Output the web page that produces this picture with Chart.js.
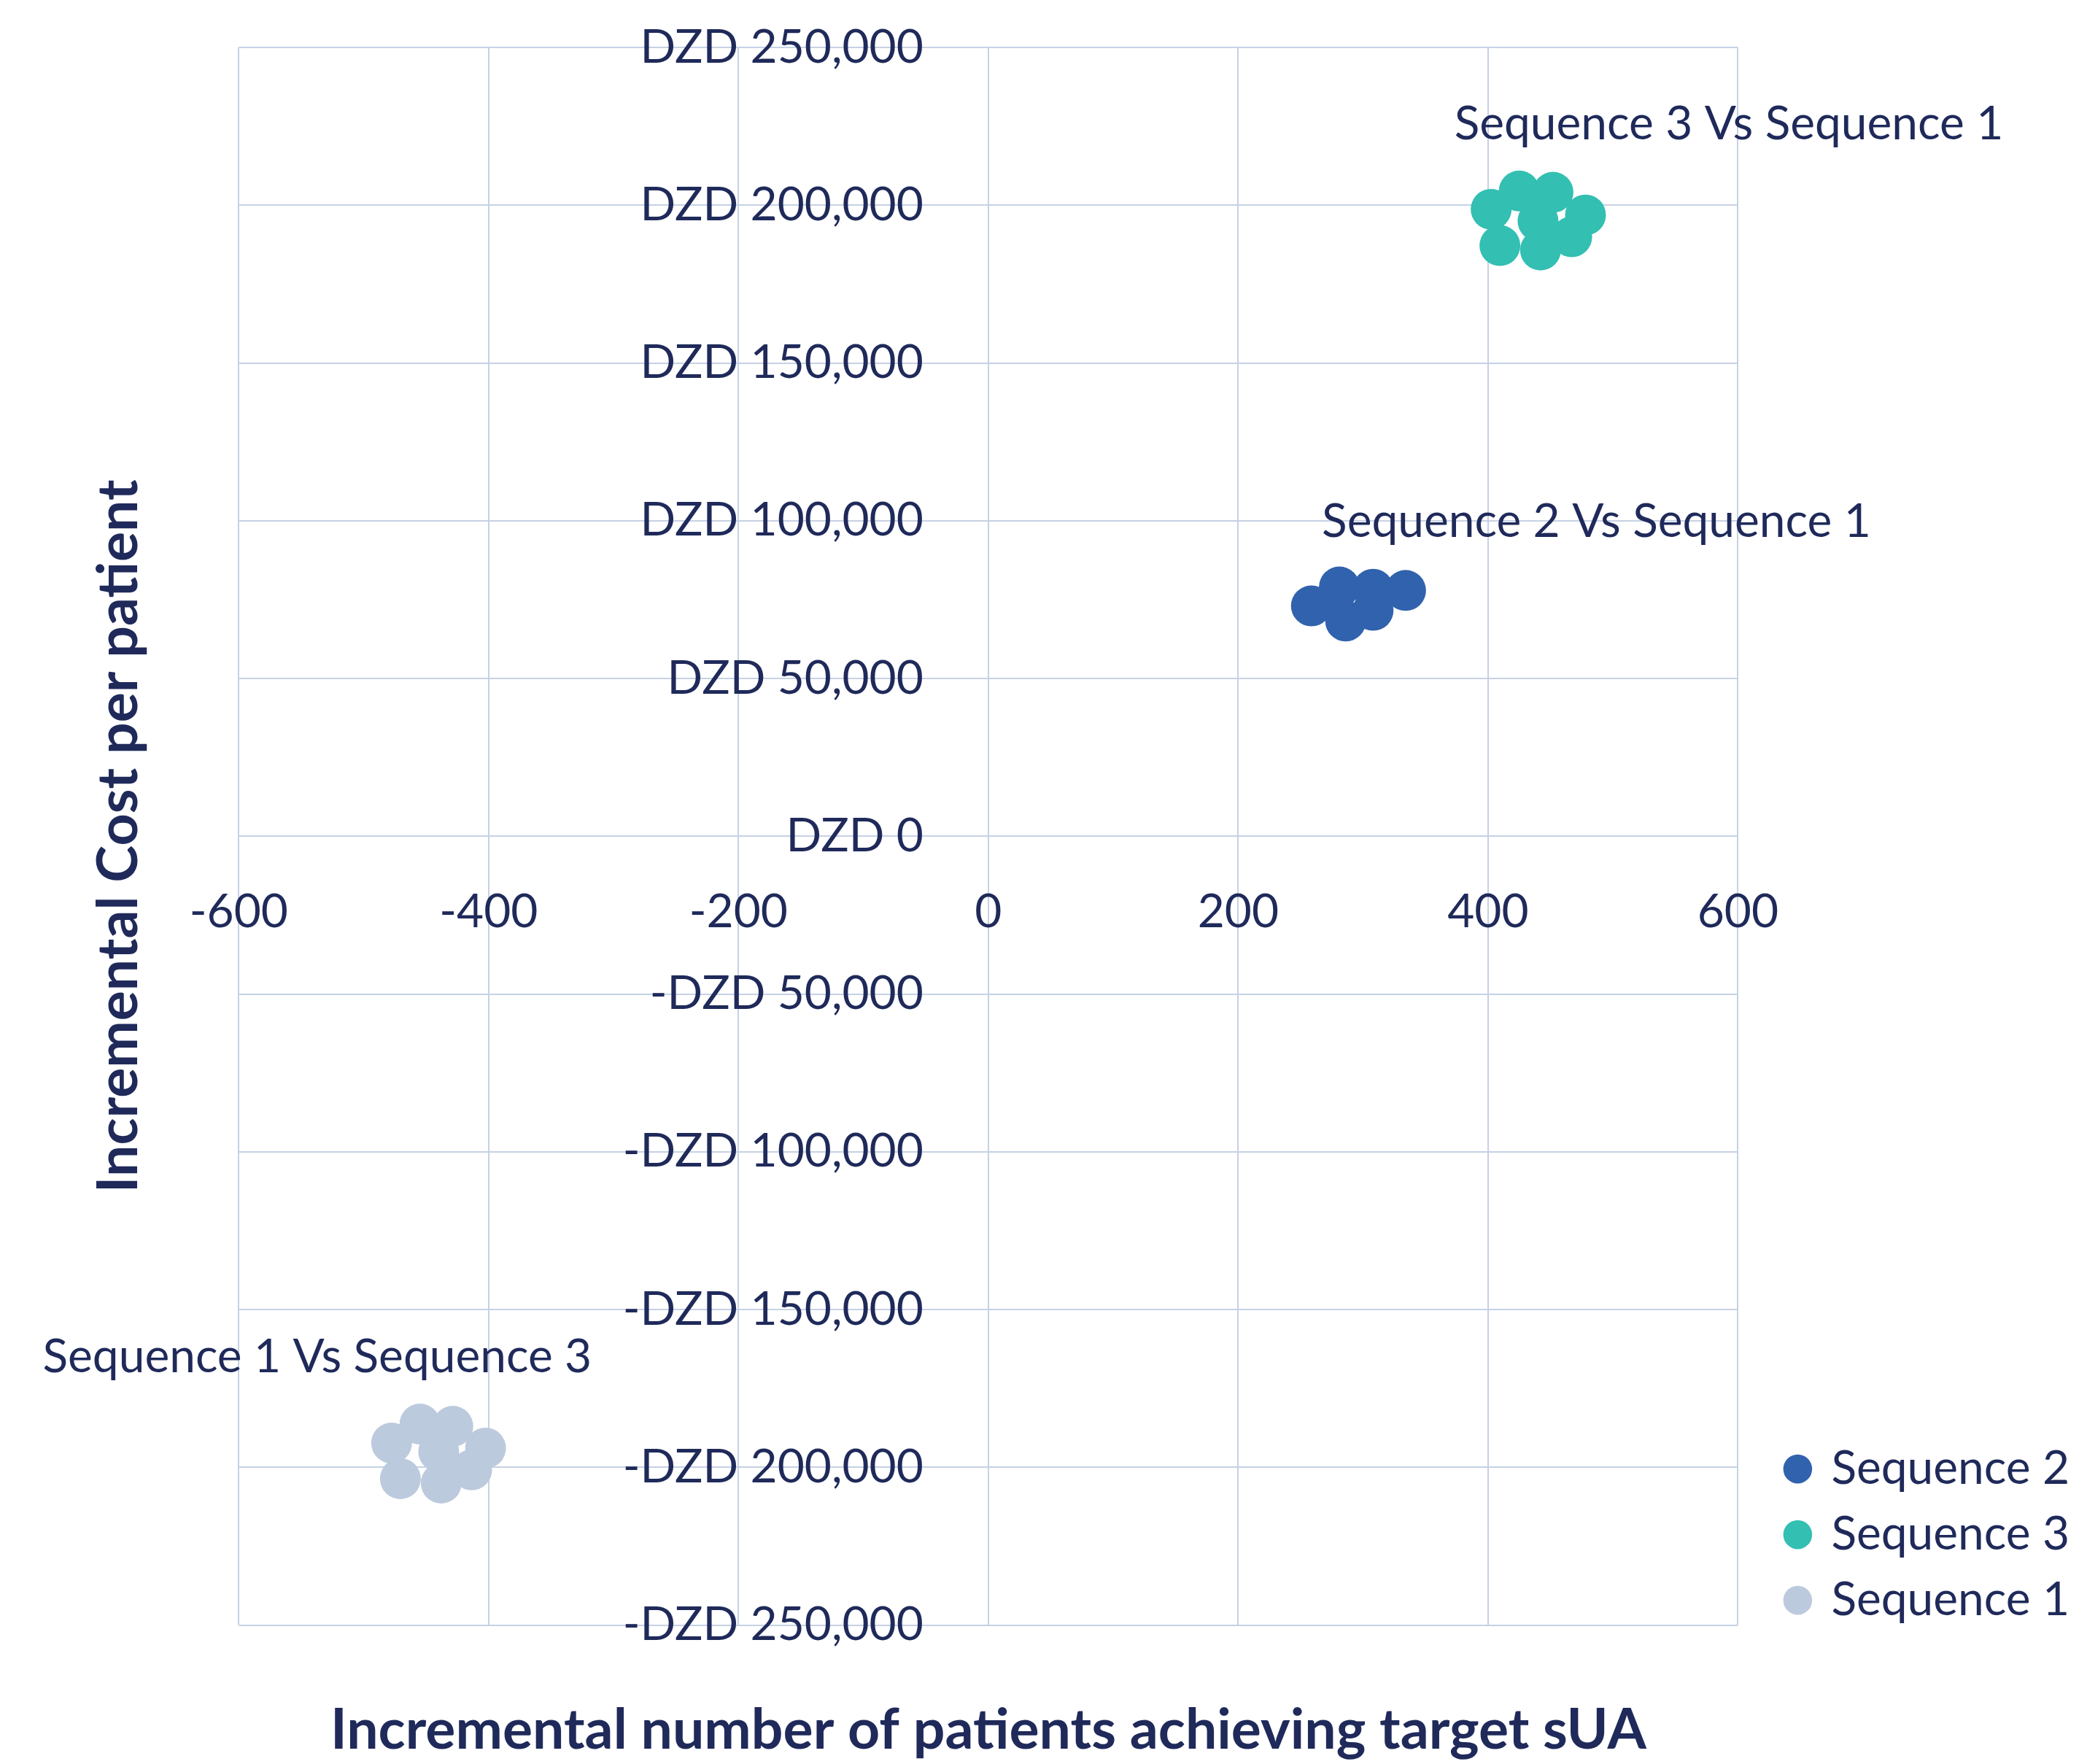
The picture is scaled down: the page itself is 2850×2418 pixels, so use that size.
<!DOCTYPE html>
<html>
<head>
<meta charset="utf-8">
<script src="https://cdn.jsdelivr.net/npm/chart.js@4.4.0/dist/chart.umd.min.js"></script>
<style>
  html, body { margin: 0; padding: 0; background: #fff; }
  #wrap { width: 2850px; height: 2418px; }
</style>
</head>
<body>
<div id="wrap"><canvas id="icer"></canvas></div>
<script>
// values
const seriesNames = ['Sequence 2', 'Sequence 3', 'Sequence 1'];
const seq2X = [258.6, 281, 308, 334, 286, 308];
const seq2Y = [73000, 79000, 78300, 77900, 68200, 71600];
const seq3X = [402.5, 425, 452, 478, 467, 442, 409.5, 440];
const seq3Y = [198700, 204500, 204100, 196900, 190000, 185800, 187200, 195000];
const seq1X = [-477.7, -455, -428.7, -402.5, -413.6, -438, -470.7, -440];
const seq1Y = [-192300, -186300, -187000, -193900, -200800, -205000, -203600, -195000];

const xTickValues = [-600, -400, -200, 0, 200, 400, 600];
const yTickValues = [-250000, -200000, -150000, -100000, -50000, 0, 50000, 100000, 150000, 200000, 250000];
const currency = 'DZD';

const noteTexts = ['Sequence 3 Vs Sequence 1', 'Sequence 2 Vs Sequence 1', 'Sequence 1 Vs Sequence 3'];
const noteX = [373, 267, -757];
const noteY = [225600, 99600, -165200];

const xTitle = 'Incremental number of patients achieving target sUA';
const yTitle = 'Incremental Cost per patient';

const textColor = '#1f2a5a';
const gridColor = '#c6d1e4';
const colors = ['#3162ad', '#33bfb2', '#bccadd'];

Chart.defaults.font.family = 'Lato';
Chart.defaults.color = textColor;

function pts(xs, ys) {
  return xs.map((x, i) => ({ x: x, y: ys[i] }));
}

function yLabel(v) {
  return (v < 0 ? '-' : '') + currency + ' ' + Math.abs(v).toLocaleString('en-US');
}

// the "Sequence x Vs Sequence y" notes next to each cloud
const notes = {
  id: 'notes',
  afterDatasetsDraw(chart) {
    const ctx = chart.ctx;
    const sx = chart.scales.x, sy = chart.scales.y;
    ctx.save();
    ctx.font = '64px Lato';
    ctx.fillStyle = textColor;
    ctx.textAlign = 'left';
    ctx.textBaseline = 'middle';
    noteTexts.forEach((t, i) => {
      ctx.fillText(t, sx.getPixelForValue(noteX[i]), sy.getPixelForValue(noteY[i]));
    });
    ctx.restore();
  }
};

// legend sits a bit away from the plot and lower than chart.js puts it
const nudgeLegend = {
  id: 'nudgeLegend',
  afterLayout(chart) {
    const lg = chart.legend;
    lg.left += 42; lg.right += 42;
    lg.top += 24; lg.bottom += 24;
  }
};

const data = {
  datasets: [
    { label: seriesNames[0], data: pts(seq2X, seq2Y), backgroundColor: colors[0] },
    { label: seriesNames[1], data: pts(seq3X, seq3Y), backgroundColor: colors[1] },
    { label: seriesNames[2], data: pts(seq1X, seq1Y), backgroundColor: colors[2] }
  ]
};

new Chart(document.getElementById('icer'), {
  type: 'scatter',
  data: data,
  options: {
    responsive: true,
    maintainAspectRatio: false,
    animation: false,
    devicePixelRatio: 1,
    events: [],
    elements: {
      point: { radius: 28, borderWidth: 0, pointStyle: 'circle' }
    },
    layout: { padding: { top: 65, left: 0, right: 45, bottom: 0 } },
    scales: {
      x: {
        type: 'linear',
        position: { y: 0 },
        min: -600,
        max: 600,
        afterBuildTicks: s => { s.ticks = xTickValues.map(v => ({ value: v })); },
        grid: { color: gridColor, lineWidth: 2, drawTicks: false },
        border: { display: false },
        ticks: { padding: 66, color: textColor, font: { size: 64 }, maxRotation: 0, autoSkip: false }
      },
      y: {
        type: 'linear',
        // labels hang right-aligned a little left of the zero line
        position: { x: -52 },
        min: -250000,
        max: 250000,
        afterBuildTicks: s => { s.ticks = yTickValues.map(v => ({ value: v })); },
        grid: { color: gridColor, lineWidth: 2, drawTicks: false },
        border: { display: false },
        ticks: { padding: 0, color: textColor, font: { size: 64 }, autoSkip: false, callback: v => yLabel(v) }
      }
    },
    plugins: {
      tooltip: { enabled: false },
      legend: {
        position: 'right',
        align: 'end',
        fullSize: false,
        labels: {
          usePointStyle: true,
          pointStyle: 'circle',
          boxWidth: 28,
          boxHeight: 28,
          padding: 26,
          color: textColor,
          font: { size: 64 }
        }
      },
      title: {
        display: true,
        text: yTitle,
        position: 'left',
        fullSize: false,
        color: textColor,
        font: { size: 77, weight: 'bold' },
        padding: { top: 117, bottom: 118 }
      },
      subtitle: {
        display: true,
        text: xTitle,
        position: 'bottom',
        fullSize: false,
        color: textColor,
        font: { size: 77, weight: 'bold' },
        padding: { top: 98, bottom: 0 }
      }
    }
  },
  plugins: [notes, nudgeLegend]
});
</script>
</body>
</html>
